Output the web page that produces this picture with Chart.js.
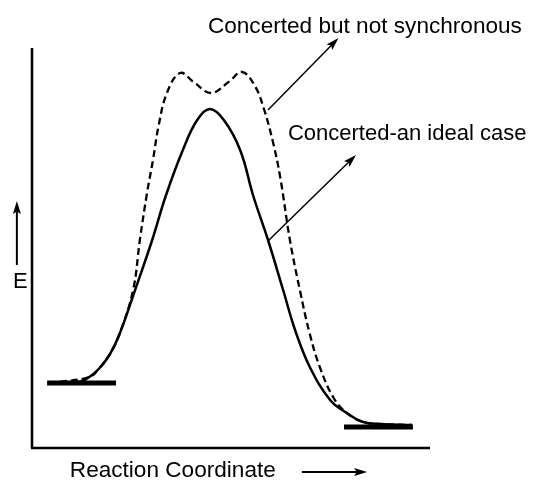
<!DOCTYPE html>
<html>
<head>
<meta charset="utf-8">
<script src="https://cdn.jsdelivr.net/npm/chart.js@4.4.1/dist/chart.umd.min.js"></script>
<style>
  html, body { margin: 0; padding: 0; background: #fff; }
  #wrap { width: 539px; height: 480px; position: relative; }
</style>
</head>
<body>
<div id="wrap"><canvas id="energyChart"></canvas></div>
<script>
// Reaction coordinate (x) and energy (y) in arbitrary units, 0-100
const idealX = [7.0, 12.1, 14.5, 17.0, 19.6, 22.0, 25.9, 30.2, 33.6, 37.9, 41.5, 44.7, 48.2, 52.3, 55.6, 59.3, 63.1, 66.1, 69.8, 74.9, 79.1, 83.2, 87.4, 95.5];
const idealE = [16.5, 16.6, 17.8, 20.0, 23.5, 28.5, 39.5, 52, 63.0, 74.5, 82, 84.75, 82, 74.5, 63.0, 52, 39.5, 29.5, 20.25, 12, 8.75, 6.5, 6, 5.75];

const asyncX = [7.0, 14.5, 17.0, 19.6, 22.0, 25.4, 27.1, 28.9, 30.4, 31.8, 33.9, 37.2, 40.6, 45.0, 49.4, 52.8, 56.0, 58.2, 60.6, 62.4, 64.8, 67.3, 69.8, 72.4, 75.8, 79.1, 83.2, 87.4, 95.5];
const asyncE = [16.5, 17.8, 20.0, 23.5, 28.5, 39.5, 52, 63.75, 72, 80.5, 88.75, 93.75, 91.5, 88.75, 91.5, 94, 90.5, 85, 76.25, 67.5, 52, 39.5, 28.5, 20, 12.5, 8.75, 6.5, 6, 5.75];

// reactant and product levels
const reactantX = [3.8, 21.1];
const reactantE = [16.25, 16.25];
const productX = [78.4, 95.7];
const productE = [5.25, 5.25];

const labelIdeal = "Concerted-an ideal case";
const labelAsync = "Concerted but not synchronous";
const labelX = "Reaction Coordinate";
const labelY = "E";

function pts(xs, ys) {
  return xs.map((x, i) => ({ x: x, y: ys[i] }));
}

// arrow helper (filled head)
function arrow(ctx, x1, y1, x2, y2, lw) {
  const a = Math.atan2(y2 - y1, x2 - x1);
  const len = 13, half = 4;
  ctx.save();
  ctx.strokeStyle = "#000";
  ctx.fillStyle = "#000";
  ctx.lineWidth = lw;
  ctx.beginPath();
  ctx.moveTo(x1, y1);
  ctx.lineTo(x2 - Math.cos(a) * len * 0.8, y2 - Math.sin(a) * len * 0.8);
  ctx.stroke();
  ctx.beginPath();
  ctx.moveTo(x2, y2);
  ctx.lineTo(x2 - Math.cos(a) * len - Math.sin(a) * half, y2 - Math.sin(a) * len + Math.cos(a) * half);
  ctx.lineTo(x2 - Math.cos(a) * len * 0.8, y2 - Math.sin(a) * len * 0.8);
  ctx.lineTo(x2 - Math.cos(a) * len + Math.sin(a) * half, y2 - Math.sin(a) * len - Math.cos(a) * half);
  ctx.closePath();
  ctx.fill();
  ctx.restore();
}

// axes, axis labels and the curve callouts
const decorations = {
  id: "decorations",
  afterDatasetsDraw(chart) {
    const ctx = chart.ctx;
    const xs = chart.scales.x, ys = chart.scales.y;
    const px = v => xs.getPixelForValue(v);
    const py = v => ys.getPixelForValue(v);
    const area = chart.chartArea;

    ctx.save();
    ctx.strokeStyle = "#000";
    ctx.lineWidth = 2.5;
    ctx.beginPath();
    ctx.moveTo(area.left, area.top);
    ctx.lineTo(area.left, area.bottom);
    ctx.moveTo(area.left - 1, area.bottom);
    ctx.lineTo(area.right, area.bottom);
    ctx.stroke();

    ctx.fillStyle = "#000";
    ctx.textBaseline = "alphabetic";
    ctx.textAlign = "left";
    ctx.font = "22.6px 'Liberation Sans', Arial, sans-serif";
    ctx.fillText(labelAsync, px(44.2), py(103.75));
    ctx.fillText(labelX, px(9.5), py(-7.25));
    ctx.font = "22px 'Liberation Sans', Arial, sans-serif";
    ctx.fillText(labelIdeal, px(64.3), py(77));
    ctx.fillText(labelY, px(-4.8), py(40));
    ctx.restore();

    arrow(ctx, px(59.3), py(84.5), px(77.0), py(102.5), 1.5);
    arrow(ctx, px(59.3), py(51.75), px(81.4), py(73.25), 1.5);
    arrow(ctx, px(67.8), py(-6), px(84.2), py(-6), 2);
    arrow(ctx, px(-3.8), py(45.75), px(-3.8), py(61.75), 2);
  }
};

const ctx = document.getElementById("energyChart").getContext("2d");
const energyChart = new Chart(ctx, {
  type: "line",
  data: {
    datasets: [
      {
        data: pts(idealX, idealE),
        borderColor: "#000",
        borderWidth: 2.5,
        pointRadius: 0,
        tension: 0.4,
        fill: false,
      },
      {
        data: pts(asyncX, asyncE),
        borderColor: "#000",
        borderWidth: 2.3,
        borderDash: [7, 4],
        pointRadius: 0,
        tension: 0.4,
        fill: false,
      },
      {
        data: pts(reactantX, reactantE),
        borderColor: "#000",
        borderWidth: 5,
        borderCapStyle: "butt",
        pointRadius: 0,
      },
      {
        data: pts(productX, productE),
        borderColor: "#000",
        borderWidth: 5,
        borderCapStyle: "butt",
        pointRadius: 0,
      },
    ],
  },
  options: {
    responsive: true,
    maintainAspectRatio: false,
    animation: false,
    layout: { padding: { left: 32, top: 48, right: 109, bottom: 32 } },
    scales: {
      x: { type: "linear", min: 0, max: 100, display: false },
      y: { type: "linear", min: 0, max: 100, display: false },
    },
    plugins: {
      legend: { display: false },
      tooltip: { enabled: false },
    },
  },
  plugins: [decorations],
});
</script>
</body>
</html>
